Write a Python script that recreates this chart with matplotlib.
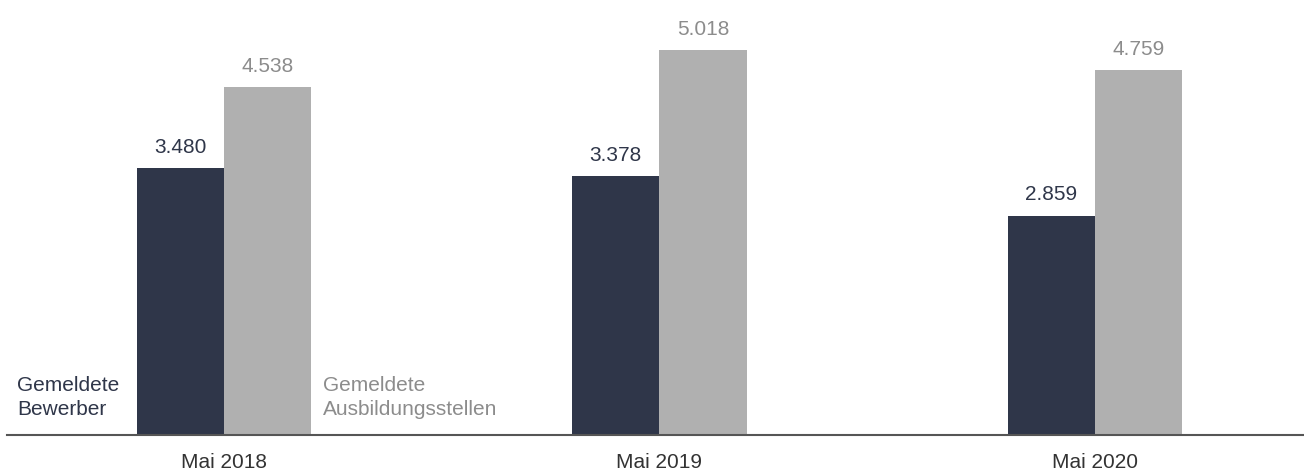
import numpy as np
import matplotlib.pyplot as plt

# data from the chart
periods = ['Mai 2018', 'Mai 2019', 'Mai 2020']
bewerber = [3480, 3378, 2859]
stellen = [4538, 5018, 4759]
labels_bew = ['3.480', '3.378', '2.859']
labels_st = ['4.538', '5.018', '4.759']

dark = '#2f3649'
grey = '#b0b0b0'
grey_txt = '#8c8c8c'

plt.rcParams['font.family'] = ['Liberation Sans', 'DejaVu Sans']

W, H = 1304, 470
fig = plt.figure(figsize=(W / 100, H / 100), dpi=100)
ax = fig.add_axes([7 / W, (H - 435) / H, 1 - 7 / W, 435 / H])

x = np.arange(len(periods))
w = 0.2
b1 = ax.bar(x - w / 2, bewerber, w, color=dark)
b2 = ax.bar(x + w / 2, stellen, w, color=grey)

for rect, lab in zip(b1, labels_bew):
    ax.annotate(lab, (rect.get_x() + rect.get_width() / 2, rect.get_height()),
                xytext=(0, 11), textcoords='offset points', ha='center',
                va='baseline', fontsize=15, color=dark)
for rect, lab in zip(b2, labels_st):
    ax.annotate(lab, (rect.get_x() + rect.get_width() / 2, rect.get_height()),
                xytext=(0, 11), textcoords='offset points', ha='center',
                va='baseline', fontsize=15, color=grey_txt)

ax.set_xlim(-0.498, 2.48)
ax.set_ylim(0, 5671)
ax.set_xticks(x)
ax.set_xticklabels(periods, fontsize=15, color='#333333')
ax.tick_params(axis='x', length=0, pad=13)
ax.set_yticks([])
for s in ['top', 'left', 'right']:
    ax.spines[s].set_visible(False)
ax.spines['bottom'].set_color('#555555')
ax.spines['bottom'].set_linewidth(1.5)

# series labels inside the chart
fig.text(17 / W, 1 - 376 / H, 'Gemeldete\nBewerber', ha='left', va='top',
         fontsize=15, color=dark, linespacing=1.32)
fig.text(323 / W, 1 - 376 / H, 'Gemeldete\nAusbildungsstellen', ha='left', va='top',
         fontsize=15, color=grey_txt, linespacing=1.32)

fig.savefig('out.png', dpi=100)
